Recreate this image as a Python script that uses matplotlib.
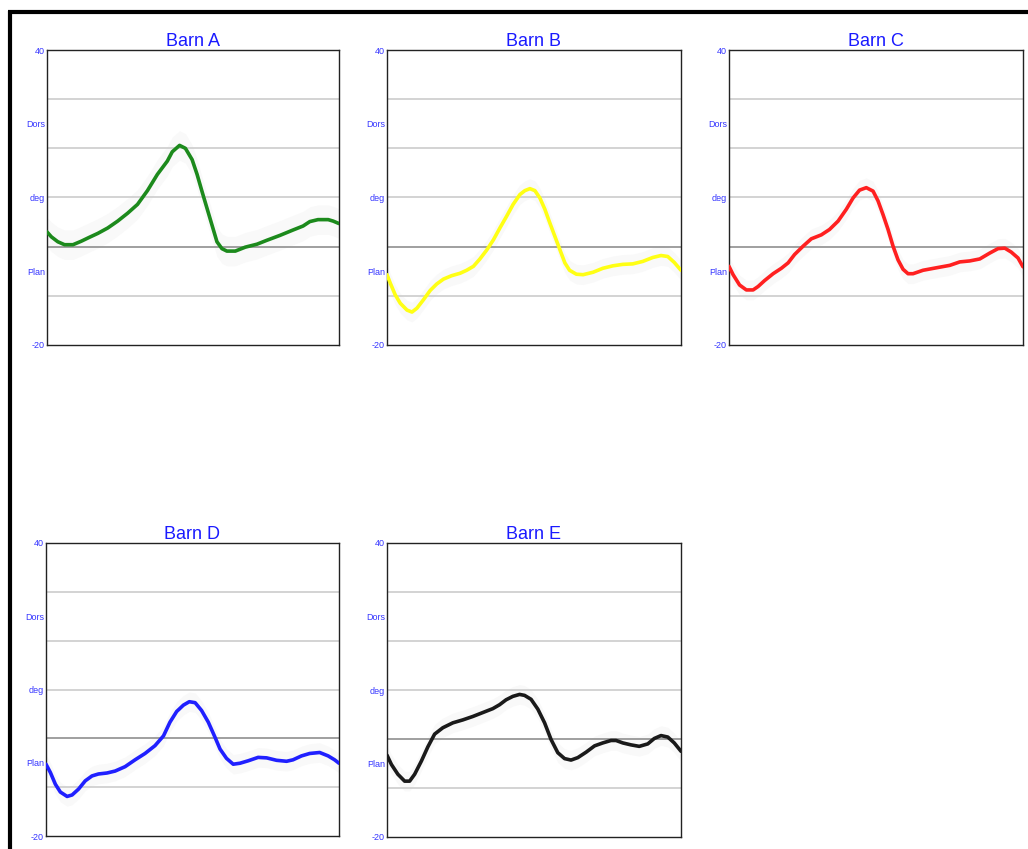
import matplotlib
matplotlib.use("Agg")
import matplotlib.pyplot as plt
from matplotlib.lines import Line2D

plt.rcParams['font.family'] = ['Liberation Sans', 'DejaVu Sans']

# Ankle angle (deg) over the gait cycle (%) for each barn
titles = ["Barn A", "Barn B", "Barn C", "Barn D", "Barn E"]
colors = ["#1c8a1c", "#ffff14", "#ff2020", "#2020ff", "#1a1a1a"]

a_x = [0, 1.5, 3.7, 6.0, 8.9, 11.7, 14.5, 17.4, 20.8, 24.2, 27.6, 31.0, 34.4, 37.8, 41.2,
       42.9, 45.4, 47.4, 49.7, 51.4, 53.1, 54.8, 56.5, 58.2, 59.9, 61.6, 64.5, 67.9, 71.9,
       75.3, 79.8, 84.3, 87.7, 90.0, 92.8, 96.3, 98.0, 100]
a_y = [3.0, 2.0, 1.0, 0.4, 0.4, 1.1, 1.9, 2.7, 3.8, 5.2, 6.8, 8.6, 11.4, 14.7, 17.4,
       19.3, 20.6, 20.0, 17.7, 14.7, 11.2, 7.8, 4.4, 1.0, -0.4, -0.9, -0.9, -0.1, 0.5,
       1.3, 2.3, 3.4, 4.2, 5.1, 5.5, 5.5, 5.2, 4.7]

b_x = [0, 1.1, 2.8, 4.5, 6.8, 8.5, 10.2, 12.4, 14.7, 16.9, 19.2, 22.0, 24.9, 27.1, 29.4,
       31.6, 33.9, 36.2, 38.4, 40.7, 42.9, 45.2, 46.9, 48.6, 50.3, 52.0, 53.7, 55.4, 57.1,
       58.8, 60.5, 62.1, 64.4, 66.7, 70.1, 73.4, 76.8, 80.2, 83.6, 87.0, 90.4, 93.2, 95.5,
       97.7, 100]
b_y = [-5.7, -7.4, -9.8, -11.5, -12.9, -13.3, -12.5, -10.8, -8.9, -7.6, -6.6, -5.9, -5.4,
       -4.8, -4.0, -2.5, -0.7, 1.4, 3.8, 6.2, 8.6, 10.6, 11.4, 11.8, 11.4, 9.9, 7.6, 4.8,
       2.1, -0.6, -3.3, -4.8, -5.6, -5.7, -5.2, -4.4, -3.9, -3.6, -3.5, -3.0, -2.2, -1.8,
       -2.0, -3.2, -4.8]

c_x = [0, 1.4, 3.6, 5.9, 8.2, 9.9, 12.1, 15.0, 17.8, 20.1, 22.3, 25.2, 28.0, 31.4, 34.2,
       37.1, 39.9, 42.2, 44.4, 46.7, 49.0, 50.7, 52.4, 54.1, 55.8, 57.5, 59.2, 60.9, 62.6,
       66.0, 70.5, 75.1, 78.5, 81.9, 85.3, 88.7, 91.5, 93.8, 96.0, 98.3, 100]
c_y = [-4.0, -5.7, -7.8, -8.8, -8.8, -8.1, -6.9, -5.5, -4.4, -3.3, -1.6, 0.1, 1.6, 2.4,
       3.5, 5.2, 7.6, 9.9, 11.5, 12.0, 11.3, 9.3, 6.5, 3.5, 0.1, -2.7, -4.6, -5.5, -5.5,
       -4.8, -4.3, -3.8, -3.1, -2.9, -2.5, -1.3, -0.4, -0.3, -1.1, -2.3, -4.1]

d_x = [0, 1.5, 3.2, 4.9, 7.2, 8.9, 11.1, 13.4, 15.7, 17.9, 20.8, 23.6, 27.0, 30.4, 33.8,
       37.2, 40.1, 42.3, 44.6, 46.9, 48.9, 50.9, 53.1, 55.4, 57.7, 59.4, 61.6, 63.9, 66.2,
       69.0, 72.4, 75.3, 78.7, 82.1, 84.3, 87.2, 90.0, 93.4, 96.3, 98.5, 100]
d_y = [-5.3, -7.0, -9.4, -11.0, -11.9, -11.6, -10.4, -8.7, -7.7, -7.3, -7.1, -6.7, -5.8,
       -4.4, -3.1, -1.5, 0.5, 3.3, 5.5, 6.8, 7.5, 7.3, 5.7, 3.3, 0.2, -2.2, -4.1, -5.3,
       -5.1, -4.6, -3.9, -4.0, -4.5, -4.7, -4.4, -3.6, -3.1, -2.9, -3.6, -4.4, -5.1]

e_x = [0, 1.5, 3.7, 6.0, 7.7, 9.4, 11.7, 13.9, 16.2, 19.0, 22.4, 25.8, 29.2, 32.6, 36.0,
       38.3, 40.5, 42.8, 45.1, 46.8, 49.0, 51.3, 53.6, 55.8, 58.1, 60.4, 62.6, 64.9, 67.7,
       70.6, 73.4, 76.2, 77.9, 80.2, 83.0, 85.8, 88.7, 90.9, 93.2, 95.5, 97.7, 100]
e_y = [-3.3, -5.2, -7.2, -8.6, -8.6, -7.2, -4.5, -1.6, 1.0, 2.3, 3.3, 3.9, 4.6, 5.4, 6.2,
       7.0, 8.0, 8.7, 9.1, 8.9, 8.1, 6.1, 3.3, -0.1, -2.8, -4.0, -4.3, -3.8, -2.7, -1.4,
       -0.8, -0.3, -0.3, -0.8, -1.2, -1.5, -1.0, 0.1, 0.7, 0.4, -0.8, -2.5]

# half-width of the faint variability band around each mean curve
band = [3.0, 2.0, 2.0, 2.0, 2.0]

series_x = [a_x, b_x, c_x, d_x, e_x]
series_y = [a_y, b_y, c_y, d_y, e_y]

y_ticks = [40, 25, 10, -5, -20]
y_labels = ["40", "Dors", "deg", "Plan", "-20"]
grid_levels = [30, 20, 10, -10]

W, H = 1028, 849
fig = plt.figure(figsize=(W / 100, H / 100), dpi=100)
fig.patch.set_facecolor("white")

# panel boxes in pixels: left, top, right, bottom
boxes = [(47, 50, 339, 345), (387, 50, 681, 345), (729, 50, 1023, 345),
         (46, 543, 339, 836), (387, 543, 681, 837)]

for i, (l, t, r, b) in enumerate(boxes):
    ax = fig.add_axes([l / W, 1 - b / H, (r - l) / W, (b - t) / H])
    ax.set_xlim(0, 100)
    ax.set_ylim(-20, 40)
    for g in grid_levels:
        ax.axhline(g, color="#c8c8c8", lw=1.1, zorder=1)
    ax.axhline(0, color="#858585", lw=1.1, zorder=1)
    xs, ys = series_x[i], series_y[i]
    lo = [v - band[i] for v in ys]
    hi = [v + band[i] for v in ys]
    ax.fill_between(xs, lo, hi, color="#f9f9f9", lw=0, zorder=0.5)
    ax.plot(xs, ys, color=colors[i], lw=2.6, solid_capstyle="round",
            solid_joinstyle="round", zorder=3)
    ax.set_xticks([])
    ax.set_yticks(y_ticks)
    ax.set_yticklabels(y_labels)
    ax.tick_params(axis="y", length=0, pad=1.5, labelsize=6.5, labelcolor="#3535ff")
    for s in ax.spines.values():
        s.set_color("#222222")
        s.set_linewidth(1.0)
    ax.set_title(titles[i], color="#1a1aff", fontsize=13, pad=2.5)

# heavy frame along the top and left edges
fig.add_artist(Line2D([8 / W, 1.0], [1 - 12 / H, 1 - 12 / H], color="black", lw=3.0,
                      transform=fig.transFigure, solid_capstyle="butt"))
fig.add_artist(Line2D([9.5 / W, 9.5 / W], [1 - 10.5 / H, 0.0], color="black", lw=3.0,
                      transform=fig.transFigure, solid_capstyle="butt"))

fig.savefig("out.png", dpi=100, facecolor="white")
